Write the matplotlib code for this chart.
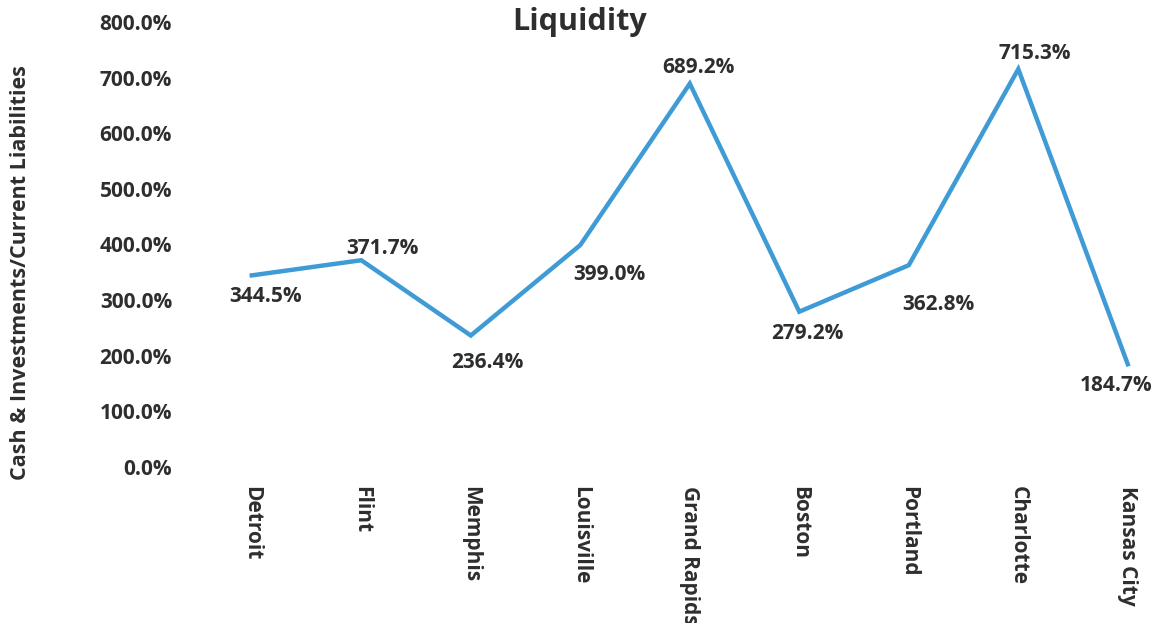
import matplotlib.pyplot as plt
from matplotlib.ticker import FuncFormatter

# data
cities = ["Detroit", "Flint", "Memphis", "Louisville", "Grand Rapids",
          "Boston", "Portland", "Charlotte", "Kansas City"]
liquidity = [344.5, 371.7, 236.4, 399.0, 689.2, 279.2, 362.8, 715.3, 184.7]

# label offsets in points (dx, dy), mimicking the excel auto placement
label_offsets = [(10, -15), (15, 8.5), (12, -19.5), (21, -21), (6.5, 11.5),
                 (6, -16), (21, -28), (12, 11.5), (-8.5, -15)]

plt.rcParams['font.family'] = ['Open Sans', 'DejaVu Sans']
text_col = '#2e2e2e'
line_col = '#3f9bd5'

fig = plt.figure(figsize=(11.59, 6.23), dpi=100)
ax = fig.add_axes([0.17, 0.2504, 0.83, 0.7143])

x = list(range(len(cities)))
ax.plot(x, liquidity, color=line_col, lw=3.2, solid_joinstyle='miter')

for xi, v, (dx, dy) in zip(x, liquidity, label_offsets):
    ax.annotate(f"{v:.1f}%", (xi, v), xytext=(dx, dy), textcoords='offset points',
                ha='center', va='center', fontsize=15, fontweight='bold', color=text_col)

ax.set_xlim(-0.5, 8.285)
ax.set_ylim(0, 800)
ax.set_yticks(range(0, 801, 100))
ax.yaxis.set_major_formatter(FuncFormatter(lambda v, p: f"{v:.1f}%"))
ax.set_xticks(x)
ax.set_xticklabels(cities, rotation=270, va='top', ha='center')

ax.tick_params(axis='both', length=0, colors=text_col, labelsize=15)
ax.tick_params(axis='y', pad=18)
ax.tick_params(axis='x', pad=14)
for lab in ax.get_xticklabels() + ax.get_yticklabels():
    lab.set_fontweight('bold')

for s in ax.spines.values():
    s.set_visible(False)

fig.text(0.5, 0.965, "Liquidity", ha='center', va='center', fontsize=22,
         fontweight='bold', color=text_col)
fig.text(0.018, 0.562, "Cash & Investments/Current Liabilities", rotation=90,
         ha='center', va='center', fontsize=15.5, fontweight='bold', color=text_col)

fig.savefig("out.png", dpi=100)
